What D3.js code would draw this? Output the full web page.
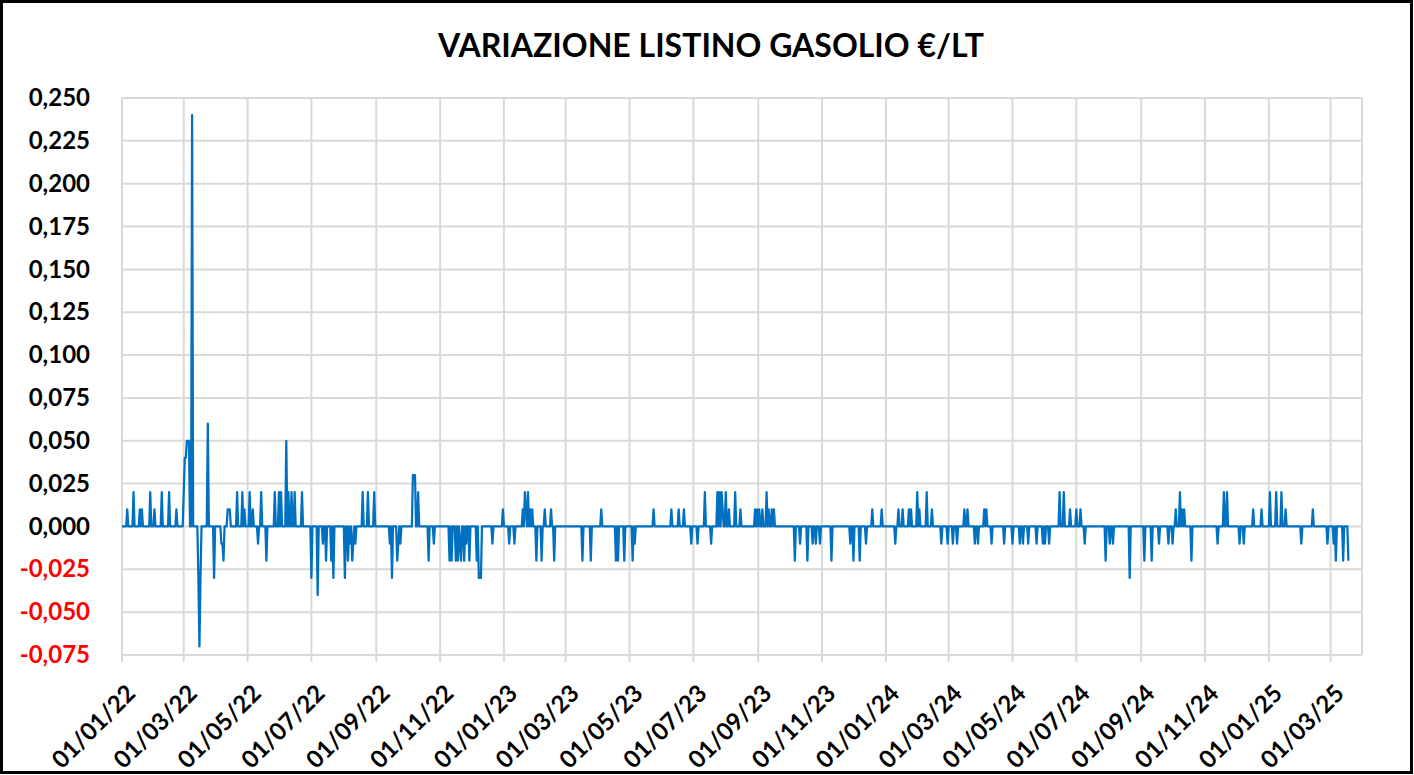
<!DOCTYPE html>
<html>
<head>
<meta charset="utf-8">
<script src="https://cdn.jsdelivr.net/npm/d3@7"></script>
<style>
    html, body { margin: 0; padding: 0; background: #fff; }
    svg { display: block; font-family: Lato, "Open Sans", sans-serif; }
</style>
</head>
<body>
<div id="app"></div>
<script>
// non-zero daily changes of the diesel list price (€/lt); every other day is 0
const changes2022 = [
    ['2022-01-06', 0.01], ['2022-01-12', 0.02], ['2022-01-18', 0.01], ['2022-01-20', 0.01],
    ['2022-01-28', 0.02], ['2022-02-01', 0.01], ['2022-02-08', 0.02], ['2022-02-15', 0.02],
    ['2022-02-22', 0.01], ['2022-03-01', 0.02], ['2022-03-02', 0.04], ['2022-03-03', 0.04],
    ['2022-03-04', 0.05], ['2022-03-05', 0.05], ['2022-03-06', 0.05], ['2022-03-09', 0.24],
    ['2022-03-15', -0.03], ['2022-03-16', -0.07], ['2022-03-17', -0.03], ['2022-03-24', 0.06],
    ['2022-03-30', -0.03], ['2022-04-06', -0.01], ['2022-04-07', -0.01], ['2022-04-08', -0.02],
    ['2022-04-12', 0.01], ['2022-04-13', 0.01], ['2022-04-14', 0.01], ['2022-04-21', 0.02],
    ['2022-04-26', 0.02], ['2022-04-28', 0.01], ['2022-05-03', 0.02], ['2022-05-06', 0.01],
    ['2022-05-11', -0.01], ['2022-05-14', 0.02], ['2022-05-19', -0.02], ['2022-05-27', 0.02],
    ['2022-05-31', 0.02], ['2022-06-02', 0.02], ['2022-06-07', 0.05], ['2022-06-09', 0.02],
    ['2022-06-12', 0.02], ['2022-06-15', 0.02], ['2022-06-22', 0.02], ['2022-07-01', -0.03],
    ['2022-07-07', -0.04], ['2022-07-12', -0.01], ['2022-07-15', -0.02], ['2022-07-20', -0.02],
    ['2022-07-22', -0.03], ['2022-08-02', -0.03], ['2022-08-05', -0.02], ['2022-08-07', -0.01],
    ['2022-08-09', -0.02], ['2022-08-10', -0.01], ['2022-08-12', -0.01], ['2022-08-19', 0.02],
    ['2022-08-24', 0.02], ['2022-08-30', 0.02], ['2022-09-14', -0.01], ['2022-09-16', -0.03],
    ['2022-09-21', -0.02], ['2022-09-22', -0.01], ['2022-09-24', -0.01], ['2022-10-06', 0.03],
    ['2022-10-07', 0.03], ['2022-10-08', 0.03], ['2022-10-11', 0.02], ['2022-10-21', -0.02],
    ['2022-10-26', -0.01], ['2022-11-10', -0.02], ['2022-11-12', -0.02], ['2022-11-16', -0.02],
    ['2022-11-18', -0.02], ['2022-11-20', -0.01], ['2022-11-21', -0.02], ['2022-11-24', -0.02],
    ['2022-11-26', -0.01], ['2022-11-29', -0.02], ['2022-12-06', -0.02], ['2022-12-08', -0.03],
    ['2022-12-09', -0.03], ['2022-12-10', -0.03], ['2022-12-21', -0.01], ['2022-12-31', 0.01],
];
const changes2023 = [
    ['2023-01-06', -0.01], ['2023-01-11', -0.01], ['2023-01-19', 0.01], ['2023-01-21', 0.02],
    ['2023-01-22', 0.01], ['2023-01-24', 0.02], ['2023-01-26', 0.01], ['2023-01-28', 0.01],
    ['2023-02-01', -0.02], ['2023-02-06', -0.02], ['2023-02-09', 0.01], ['2023-02-15', 0.01],
    ['2023-02-18', -0.02], ['2023-03-17', -0.02], ['2023-03-25', -0.02], ['2023-04-04', 0.01],
    ['2023-04-18', -0.02], ['2023-04-20', -0.02], ['2023-04-26', -0.02], ['2023-05-04', -0.02],
    ['2023-05-06', -0.01], ['2023-05-24', 0.01], ['2023-06-10', 0.01], ['2023-06-17', 0.01],
    ['2023-06-22', 0.01], ['2023-06-29', -0.01], ['2023-07-05', -0.01], ['2023-07-12', 0.02],
    ['2023-07-18', -0.01], ['2023-07-24', 0.02], ['2023-07-26', 0.02], ['2023-07-28', 0.02],
    ['2023-07-29', 0.01], ['2023-08-01', 0.02], ['2023-08-04', 0.01], ['2023-08-10', 0.02],
    ['2023-08-15', 0.01], ['2023-08-29', 0.01], ['2023-08-31', 0.01], ['2023-09-02', 0.01],
    ['2023-09-05', 0.01], ['2023-09-09', 0.02], ['2023-09-11', 0.01], ['2023-09-14', 0.01],
    ['2023-09-16', 0.01], ['2023-10-06', -0.02], ['2023-10-11', -0.01], ['2023-10-18', -0.02],
    ['2023-10-23', -0.01], ['2023-10-26', -0.01], ['2023-10-30', -0.01], ['2023-11-10', -0.02],
    ['2023-11-28', -0.01], ['2023-12-01', -0.02], ['2023-12-07', -0.02], ['2023-12-13', -0.01],
    ['2023-12-19', 0.01], ['2023-12-28', 0.01],
];
const changes2024 = [
    ['2024-01-10', -0.01], ['2024-01-13', 0.01], ['2024-01-17', 0.01], ['2024-01-23', 0.01],
    ['2024-01-25', 0.01], ['2024-01-31', 0.02], ['2024-02-02', 0.01], ['2024-02-09', 0.02],
    ['2024-02-14', 0.01], ['2024-02-23', -0.01], ['2024-02-29', -0.01], ['2024-03-05', -0.01],
    ['2024-03-09', -0.01], ['2024-03-16', 0.01], ['2024-03-19', 0.01], ['2024-03-26', -0.01],
    ['2024-03-29', -0.01], ['2024-04-04', 0.01], ['2024-04-06', 0.01], ['2024-04-11', -0.01],
    ['2024-04-23', -0.01], ['2024-05-01', -0.01], ['2024-05-08', -0.01], ['2024-05-11', -0.01],
    ['2024-05-16', -0.01], ['2024-05-24', -0.01], ['2024-05-30', -0.01], ['2024-06-01', -0.01],
    ['2024-06-05', -0.01], ['2024-06-15', 0.02], ['2024-06-19', 0.02], ['2024-06-25', 0.01],
    ['2024-07-01', 0.01], ['2024-07-05', 0.01], ['2024-07-09', -0.01], ['2024-07-29', -0.02],
    ['2024-08-02', -0.01], ['2024-08-05', -0.01], ['2024-08-21', -0.03], ['2024-09-04', -0.02],
    ['2024-09-11', -0.02], ['2024-09-18', -0.01], ['2024-09-27', -0.01], ['2024-10-01', -0.01],
    ['2024-10-04', 0.01], ['2024-10-08', 0.02], ['2024-10-10', 0.01], ['2024-10-12', 0.01],
    ['2024-10-19', -0.02], ['2024-11-13', -0.01], ['2024-11-19', 0.02], ['2024-11-22', 0.02],
    ['2024-12-04', -0.01], ['2024-12-08', -0.01], ['2024-12-17', 0.01], ['2024-12-25', 0.01],
];
const changes2025 = [
    ['2025-01-02', 0.02], ['2025-01-08', 0.02], ['2025-01-13', 0.02], ['2025-01-17', 0.01],
    ['2025-02-01', -0.01], ['2025-02-12', 0.01], ['2025-02-26', -0.01], ['2025-03-04', -0.01],
    ['2025-03-06', -0.02], ['2025-03-13', -0.02], ['2025-03-18', -0.02],
];
const firstDay = '2022-01-01';
const lastDay = '2025-03-18';
const axisEnd = '2025-03-31';
const yTicks = [0.25, 0.225, 0.2, 0.175, 0.15, 0.125, 0.1, 0.075, 0.05, 0.025, 0, -0.025, -0.05, -0.075];
const title = 'VARIAZIONE LISTINO GASOLIO €/LT';

(() => {
    const parse = d3.timeParse('%Y-%m-%d');
    const changeMap = new Map();
    [changes2022, changes2023, changes2024, changes2025].forEach(list => {
        list.forEach(([day, value]) => changeMap.set(day, value));
    });

    const fmtKey = d3.timeFormat('%Y-%m-%d');
    const days = d3.timeDay.range(parse(firstDay), d3.timeDay.offset(parse(lastDay), 1));
    const series = days.map(day => ({
        date: day,
        value: changeMap.has(fmtKey(day)) ? changeMap.get(fmtKey(day)) : 0,
    }));

    const width = 1414;
    const height = 775;
    const margin = { top: 98, right: 52, bottom: 120, left: 122 };

    const svg = d3.select('#app').append('svg')
        .attr('width', width)
        .attr('height', height);

    svg.append('rect')
        .attr('x', 1.5).attr('y', 1.5)
        .attr('width', width - 4).attr('height', height - 4)
        .attr('fill', '#fff')
        .attr('stroke', '#000')
        .attr('stroke-width', 3);

    svg.append('text')
        .attr('x', 711)
        .attr('y', 57)
        .attr('text-anchor', 'middle')
        .style('font-size', '32px')
        .style('font-weight', 700)
        .text(title);

    const x = d3.scaleTime()
        .domain([parse(firstDay), parse(axisEnd)])
        .range([margin.left, width - margin.right]);

    const y = d3.scaleLinear()
        .domain([-0.075, 0.25])
        .range([height - margin.bottom, margin.top]);

    const fmtY = v => d3.format('.3f')(v).replace('.', ',').replace('−', '-');

    // horizontal gridlines + y labels
    const yAxis = svg.append('g')
        .attr('transform', `translate(${margin.left},0)`)
        .call(d3.axisLeft(y).tickValues(yTicks).tickSize(0).tickPadding(32).tickFormat(fmtY));
    yAxis.select('.domain').remove();
    yAxis.selectAll('text')
        .style('font-family', 'Lato, sans-serif')
        .style('font-size', '24px')
        .style('font-weight', 700)
        .attr('fill', d => d < 0 ? '#ff0000' : '#000');

    svg.append('g')
        .selectAll('line')
        .data(yTicks)
        .enter().append('line')
        .attr('x1', margin.left)
        .attr('x2', width - margin.right)
        .attr('y1', d => y(d))
        .attr('y2', d => y(d))
        .attr('stroke', '#d9d9d9')
        .attr('stroke-width', 2);

    // vertical gridlines + date labels
    const xTicks = x.ticks(d3.timeMonth.every(2));
    svg.append('g')
        .selectAll('line')
        .data(xTicks)
        .enter().append('line')
        .attr('x1', d => x(d))
        .attr('x2', d => x(d))
        .attr('y1', margin.top)
        .attr('y2', height - margin.bottom + 7)
        .attr('stroke', '#d9d9d9')
        .attr('stroke-width', 2);

    svg.append('line')
        .attr('x1', width - margin.right).attr('x2', width - margin.right)
        .attr('y1', margin.top).attr('y2', height - margin.bottom)
        .attr('stroke', '#d9d9d9')
        .attr('stroke-width', 2);

    const fmtX = d3.timeFormat('%d/%m/%y');
    svg.append('g')
        .selectAll('text')
        .data(xTicks)
        .enter().append('text')
        .attr('transform', d => `translate(${x(d) + 9},${height - margin.bottom + 34}) rotate(-45)`)
        .attr('text-anchor', 'end')
        .attr('dy', '0.35em')
        .style('font-size', '24px')
        .style('font-weight', 700)
        .text(d => fmtX(d));

    const line = d3.line()
        .x(d => x(d.date))
        .y(d => y(d.value));

    svg.append('path')
        .datum(series)
        .attr('fill', 'none')
        .attr('stroke', '#0070c0')
        .attr('stroke-width', 2.25)
        .attr('stroke-linejoin', 'round')
        .attr('d', line);
})();
</script>
</body>
</html>
